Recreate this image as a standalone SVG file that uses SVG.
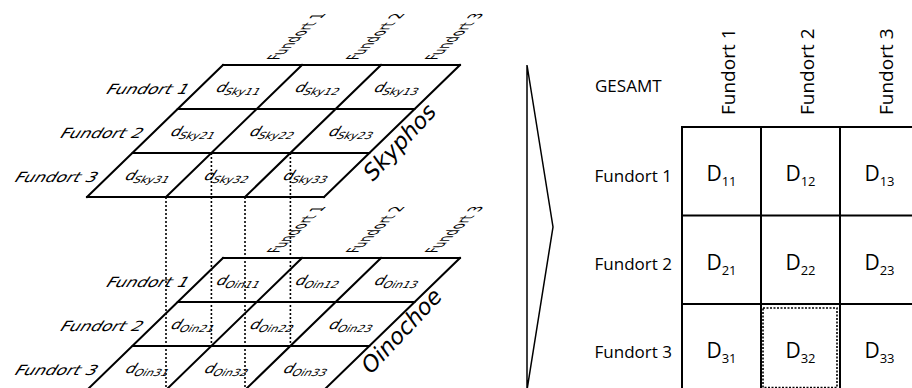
<svg xmlns="http://www.w3.org/2000/svg" width="912" height="388" viewBox="0 0 912 388">
<style>
.bg{fill:#fff}
.grid{fill:none;stroke:#000;stroke-width:2;stroke-linecap:square}
.dot{fill:none;stroke:#000;stroke-width:1.6;stroke-dasharray:2 2}
.sk{font-family:"DejaVu Sans",Verdana,sans-serif;fill:#000}
.rl{font-size:17px;text-anchor:end}
.cell{font-size:16px;text-anchor:middle}
.sub{font-size:11.5px}
.cl{font-size:15px}
.big{font-size:22.5px;font-style:italic}
.tb{font-family:"Open Sans","Noto Sans",sans-serif;fill:#000}
.lab{font-size:17px}
.hd{font-size:19px}
.D{font-size:21px;text-anchor:middle}
.ds{font-size:13px}
.thin{fill:none;stroke:#000;stroke-width:1.5}
</style>
<rect class="bg" width="912" height="388"/>

<g id="skyphos">
<path class="grid" d="M223,65 H460 M177.7,109 H414.7 M132.4,153 H369.4 M87,197 H324 M223,65 L87,197 M302,65 L166,197 M381,65 L245,197 M460,65 L324,197"/>
<g class="sk">
<text class="rl" transform="translate(186,94) skewX(-32) scale(1,0.82)">Fundort 1</text>
<text class="rl" transform="translate(140,138) skewX(-32) scale(1,0.82)">Fundort 2</text>
<text class="rl" transform="translate(94.5,182) skewX(-32) scale(1,0.82)">Fundort 3</text>
<text class="cl" transform="matrix(0.68,-0.655,1.15,0,278,60)">Fundort 1</text>
<text class="cl" transform="matrix(0.68,-0.655,1.15,0,357,60)">Fundort 2</text>
<text class="cl" transform="matrix(0.68,-0.655,1.15,0,436,60)">Fundort 3</text>
<text class="cell" transform="translate(237,92) skewX(-32) scale(1,0.85)">d<tspan class="sub" dy="3">Sky11</tspan></text>
<text class="cell" transform="translate(316,92) skewX(-32) scale(1,0.85)">d<tspan class="sub" dy="3">Sky12</tspan></text>
<text class="cell" transform="translate(395,92) skewX(-32) scale(1,0.85)">d<tspan class="sub" dy="3">Sky13</tspan></text>
<text class="cell" transform="translate(191.5,136) skewX(-32) scale(1,0.85)">d<tspan class="sub" dy="3">Sky21</tspan></text>
<text class="cell" transform="translate(270.5,136) skewX(-32) scale(1,0.85)">d<tspan class="sub" dy="3">Sky22</tspan></text>
<text class="cell" transform="translate(349.5,136) skewX(-32) scale(1,0.85)">d<tspan class="sub" dy="3">Sky23</tspan></text>
<text class="cell" transform="translate(146,180) skewX(-32) scale(1,0.85)">d<tspan class="sub" dy="3">Sky31</tspan></text>
<text class="cell" transform="translate(225,180) skewX(-32) scale(1,0.85)">d<tspan class="sub" dy="3">Sky32</tspan></text>
<text class="cell" transform="translate(304,180) skewX(-32) scale(1,0.85)">d<tspan class="sub" dy="3">Sky33</tspan></text>
<text class="big" transform="translate(373,182) rotate(-47)">Skyphos</text>
</g>
</g>

<g id="oinochoe">
<path class="grid" d="M223,258 H460 M177.7,302 H414.7 M132.4,346 H369.4 M87,390 H324 M223,258 L87,390 M302,258 L166,390 M381,258 L245,390 M460,258 L324,390"/>
<g class="sk">
<text class="rl" transform="translate(186,287) skewX(-32) scale(1,0.82)">Fundort 1</text>
<text class="rl" transform="translate(140,331) skewX(-32) scale(1,0.82)">Fundort 2</text>
<text class="rl" transform="translate(94.5,375) skewX(-32) scale(1,0.82)">Fundort 3</text>
<text class="cl" transform="matrix(0.68,-0.655,1.15,0,278,253)">Fundort 1</text>
<text class="cl" transform="matrix(0.68,-0.655,1.15,0,357,253)">Fundort 2</text>
<text class="cl" transform="matrix(0.68,-0.655,1.15,0,436,253)">Fundort 3</text>
<text class="cell" transform="translate(237,285) skewX(-32) scale(1,0.85)">d<tspan class="sub" dy="3">Oin11</tspan></text>
<text class="cell" transform="translate(316,285) skewX(-32) scale(1,0.85)">d<tspan class="sub" dy="3">Oin12</tspan></text>
<text class="cell" transform="translate(395,285) skewX(-32) scale(1,0.85)">d<tspan class="sub" dy="3">Oin13</tspan></text>
<text class="cell" transform="translate(191.5,329) skewX(-32) scale(1,0.85)">d<tspan class="sub" dy="3">Oin21</tspan></text>
<text class="cell" transform="translate(270.5,329) skewX(-32) scale(1,0.85)">d<tspan class="sub" dy="3">Oin22</tspan></text>
<text class="cell" transform="translate(349.5,329) skewX(-32) scale(1,0.85)">d<tspan class="sub" dy="3">Oin23</tspan></text>
<text class="cell" transform="translate(146,373) skewX(-32) scale(1,0.85)">d<tspan class="sub" dy="3">Oin31</tspan></text>
<text class="cell" transform="translate(225,373) skewX(-32) scale(1,0.85)">d<tspan class="sub" dy="3">Oin32</tspan></text>
<text class="cell" transform="translate(304,373) skewX(-32) scale(1,0.85)">d<tspan class="sub" dy="3">Oin33</tspan></text>
<text class="big" transform="translate(371,375) rotate(-47)">Oinochoe</text>
</g>
</g>

<g id="connectors">
<path class="dot" d="M211.4,153 V346 M290.4,153 V346 M166,197 V390 M245,197 V390"/>
</g>

<g id="arrow">
<path class="thin" d="M527,65 L553,227 L527,390 Z"/>
</g>

<g id="gesamt">
<path class="grid" d="M682,127 H920 M682,215.5 H920 M682,304 H920 M682,127 V395 M761,127 V395 M840,127 V395"/>
<rect x="763" y="308" width="74" height="79.5" fill="none" stroke="#000" stroke-width="1.6" stroke-dasharray="2 1.5"/>
<g class="tb">
<text class="lab" x="595" y="92">GESAMT</text>
<text class="hd" transform="translate(735,115) rotate(-90)">Fundort 1</text>
<text class="hd" transform="translate(814,115) rotate(-90)">Fundort 2</text>
<text class="hd" transform="translate(893,115) rotate(-90)">Fundort 3</text>
<text class="lab" x="672" y="182" text-anchor="end">Fundort 1</text>
<text class="lab" x="672" y="270" text-anchor="end">Fundort 2</text>
<text class="lab" x="672" y="358" text-anchor="end">Fundort 3</text>
<text class="D" x="721.5" y="181">D<tspan class="ds" dy="5">11</tspan></text>
<text class="D" x="800.5" y="181">D<tspan class="ds" dy="5">12</tspan></text>
<text class="D" x="879.5" y="181">D<tspan class="ds" dy="5">13</tspan></text>
<text class="D" x="721.5" y="269.5">D<tspan class="ds" dy="5">21</tspan></text>
<text class="D" x="800.5" y="269.5">D<tspan class="ds" dy="5">22</tspan></text>
<text class="D" x="879.5" y="269.5">D<tspan class="ds" dy="5">23</tspan></text>
<text class="D" x="721.5" y="358">D<tspan class="ds" dy="5">31</tspan></text>
<text class="D" x="800.5" y="358">D<tspan class="ds" dy="5">32</tspan></text>
<text class="D" x="879.5" y="358">D<tspan class="ds" dy="5">33</tspan></text>
</g>
</g>
</svg>
